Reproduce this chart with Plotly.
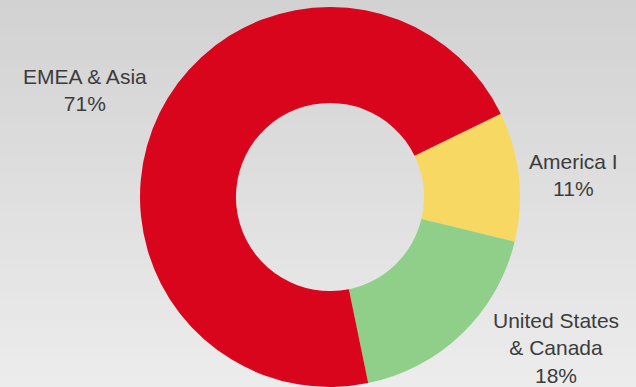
import plotly.graph_objects as go

labels = ["America I", "United States & Canada", "EMEA & Asia"]
values = [11, 18, 71]
label_text = ["America I<br>11%", "United States<br>& Canada<br>18%", "EMEA & Asia<br>71%"]
colors = ["#f7d862", "#8fcf8a", "#d9051c"]

W, H = 636, 387

fig = go.Figure()
fig.add_trace(go.Pie(
    labels=labels,
    values=values,
    sort=False,
    direction="clockwise",
    rotation=64,
    hole=0.495,
    marker=dict(colors=colors, line=dict(width=0)),
    textinfo="none",
    hoverinfo="label+percent",
    showlegend=False,
    domain=dict(x=[140 / W, 520 / W], y=[0, 380 / H]),
))

# gradient background
n = 40
c0, c1 = 0xd2, 0xec
shapes = []
for i in range(n):
    v = int(round(c0 + (c1 - c0) * i / (n - 1)))
    col = f"rgb({v},{v},{v})"
    shapes.append(dict(type="rect", xref="paper", yref="paper",
                       x0=0, x1=1, y0=1 - (i + 1) / n, y1=1 - i / n + 0.001,
                       fillcolor=col, line=dict(width=0), layer="below"))

# label positions (pixel centres)
pos = [(573, 175), (556, 348), (85, 90)]
annotations = []
for txt, (px, py) in zip(label_text, pos):
    annotations.append(dict(text=txt, x=px / W, y=1 - py / H, xref="paper", yref="paper",
                            showarrow=False, xanchor="center", yanchor="middle",
                            align="center",
                            font=dict(family="Liberation Sans, Arial, sans-serif", size=21, color="#3c3c3c")))

fig.update_layout(
    width=W, height=H,
    margin=dict(l=0, r=0, t=0, b=0),
    paper_bgcolor="#e0e0e0",
    plot_bgcolor="#e0e0e0",
    shapes=shapes,
    annotations=annotations,
)

fig.write_html("out.html")
